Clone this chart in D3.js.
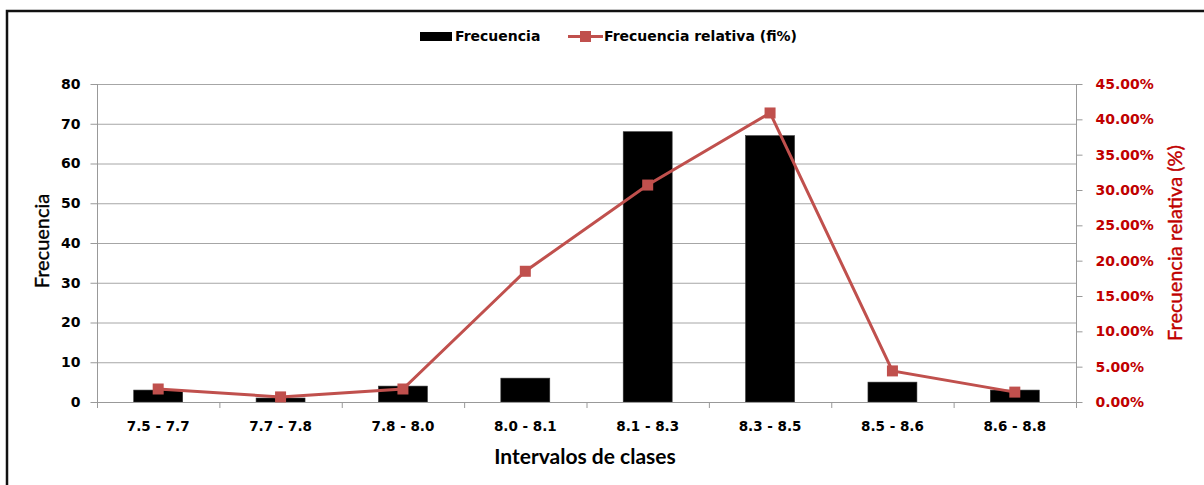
<!DOCTYPE html>
<html>
<head>
<meta charset="utf-8">
<script src="https://cdn.jsdelivr.net/npm/d3@7"></script>
<style>
  body { margin: 0; background: #fff; }
  svg { display: block; }
</style>
</head>
<body>
<div id="chart"></div>
<script>
var w = 1204;
var h = 485;

// data
var categories = ["7.5 - 7.7", "7.7 - 7.8", "7.8 - 8.0", "8.0 - 8.1", "8.1 - 8.3", "8.3 - 8.5", "8.5 - 8.6", "8.6 - 8.8"];
var frecuencia = [3, 1, 4, 6, 68, 67, 5, 3];
var relativa = [1.84, 0.72, 1.84, 18.5, 30.7, 40.9, 4.4, 1.4];   // in %
var leftTicks = [0, 10, 20, 30, 40, 50, 60, 70, 80];
var rightTicks = [0, 5, 10, 15, 20, 25, 30, 35, 40, 45];

var plot = { left: 97, right: 1076, top: 84, bottom: 402 };
var red = "#C0504D";
var darkRed = "#C00000";
var grid = "#a6a6a6";
var tickFont = "'DejaVu Sans', Verdana, sans-serif";

var svg = d3.select("#chart")
            .append("svg")
            .attr("width", w)
            .attr("height", h);

// outer frame (only left and top edges show)
svg.append("rect")
   .attr("x", 7).attr("y", 11)
   .attr("width", w + 20).attr("height", h + 20)
   .style("fill", "none")
   .style("stroke", "#111")
   .style("stroke-width", 2.5);

var x = d3.scaleBand()
          .domain(categories)
          .range([plot.left, plot.right])
          .paddingInner(0.6)
          .paddingOuter(0.3);

var xOuter = d3.scaleBand()
               .domain(categories)
               .range([plot.left, plot.right])
               .padding(0);

var yL = d3.scaleLinear().domain([0, 80]).range([plot.bottom, plot.top]);
var yR = d3.scaleLinear().domain([0, 45]).range([plot.bottom, plot.top]);

// gridlines
svg.selectAll("line.grid")
   .data(leftTicks)
   .enter()
   .append("line")
   .attr("class", "grid")
   .attr("x1", plot.left).attr("x2", plot.right)
   .attr("y1", function(d) { return yL(d) + 0.5; })
   .attr("y2", function(d) { return yL(d) + 0.5; })
   .style("stroke", grid)
   .style("stroke-width", 1);

// bars
svg.selectAll("rect.bar")
   .data(frecuencia)
   .enter()
   .append("rect")
   .attr("class", "bar")
   .attr("x", function(d, i) { return x(categories[i]); })
   .attr("width", x.bandwidth())
   .attr("y", function(d) { return yL(d); })
   .attr("height", function(d) { return yL(0) - yL(d); })
   .style("fill", "#000")
   .style("stroke", "#333")
   .style("stroke-width", 0.6);

// left axis
var axL = svg.append("g")
             .attr("transform", "translate(" + (plot.left + 0.5) + ",0)")
             .call(d3.axisLeft(yL).tickValues(leftTicks).tickSize(7).tickPadding(10));

// right axis
var axR = svg.append("g")
             .attr("transform", "translate(" + (plot.right + 0.5) + ",0)")
             .call(d3.axisRight(yR).tickValues(rightTicks).tickSize(6).tickPadding(13)
                   .tickFormat(function(d) { return d.toFixed(2) + "%"; }));

[axL, axR].forEach(function(g) {
    g.select(".domain").style("stroke", "#999")
     .attr("d", "M0," + plot.top + "V" + (plot.bottom + 6));
    g.selectAll(".tick line").style("stroke", "#999");
    g.selectAll("text")
     .style("font-family", tickFont)
     .style("font-weight", "bold")
     .style("font-size", "14px");
});
axL.selectAll("text").style("fill", "#000");
axR.selectAll("text").style("fill", darkRed);

// bottom axis: line, boundary ticks, centred labels
svg.append("line")
   .attr("x1", plot.left).attr("x2", plot.right)
   .attr("y1", plot.bottom + 0.5).attr("y2", plot.bottom + 0.5)
   .style("stroke", "#999");

var bounds = categories.map(function(c) { return xOuter(c); }).concat([plot.right]);
svg.selectAll("line.xtick")
   .data(bounds)
   .enter()
   .append("line")
   .attr("class", "xtick")
   .attr("x1", function(d) { return d + 0.5; })
   .attr("x2", function(d) { return d + 0.5; })
   .attr("y1", plot.bottom).attr("y2", plot.bottom + 6)
   .style("stroke", "#999");

svg.selectAll("text.xlabel")
   .data(categories)
   .enter()
   .append("text")
   .attr("class", "xlabel")
   .attr("x", function(d) { return xOuter(d) + xOuter.bandwidth() / 2; })
   .attr("y", 431)
   .attr("text-anchor", "middle")
   .style("font-family", tickFont)
   .style("font-weight", "bold")
   .style("font-size", "13.5px")
   .text(function(d) { return d; });

// relative frequency line
var line = d3.line()
             .x(function(d, i) { return xOuter(categories[i]) + xOuter.bandwidth() / 2; })
             .y(function(d) { return yR(d); });

svg.append("path")
   .datum(relativa)
   .attr("d", line)
   .style("fill", "none")
   .style("stroke", red)
   .style("stroke-width", 3);

var m = 11;
svg.selectAll("rect.marker")
   .data(relativa)
   .enter()
   .append("rect")
   .attr("class", "marker")
   .attr("x", function(d, i) { return xOuter(categories[i]) + xOuter.bandwidth() / 2 - m / 2; })
   .attr("y", function(d) { return yR(d) - m / 2; })
   .attr("width", m).attr("height", m)
   .style("fill", red);

// axis titles
svg.append("text")
   .attr("x", 585).attr("y", 464)
   .attr("text-anchor", "middle")
   .style("font-family", "Lato, sans-serif")
   .style("font-weight", "bold")
   .style("font-size", "21px")
   .text("Intervalos de clases");

svg.append("text")
   .attr("transform", "translate(49,241) rotate(-90)")
   .attr("text-anchor", "middle")
   .style("font-family", "Lato, sans-serif")
   .style("font-size", "20px")
   .style("fill", "#000")
   .style("stroke", "#000")
   .style("stroke-width", 0.4)
   .text("Frecuencia");

svg.append("text")
   .attr("transform", "translate(1182,243) rotate(-90)")
   .attr("text-anchor", "middle")
   .style("font-family", "Lato, sans-serif")
   .style("font-size", "20px")
   .style("fill", darkRed)
   .style("stroke", darkRed)
   .style("stroke-width", 0.4)
   .text("Frecuencia relativa (%)");

// legend
var legend = svg.append("g");
legend.append("rect")
      .attr("x", 420).attr("y", 32)
      .attr("width", 32).attr("height", 9)
      .style("fill", "#000");
legend.append("text")
      .attr("x", 455).attr("y", 41)
      .style("font-family", tickFont)
      .style("font-weight", "bold")
      .style("font-size", "14px")
      .text("Frecuencia");
legend.append("line")
      .attr("x1", 568).attr("x2", 603)
      .attr("y1", 36.5).attr("y2", 36.5)
      .style("stroke", red)
      .style("stroke-width", 3);
legend.append("rect")
      .attr("x", 580).attr("y", 31)
      .attr("width", m).attr("height", m)
      .style("fill", red);
legend.append("text")
      .attr("x", 604).attr("y", 41)
      .style("font-family", tickFont)
      .style("font-weight", "bold")
      .style("font-size", "14px")
      .text("Frecuencia relativa (fi%)");
</script>
</body>
</html>
